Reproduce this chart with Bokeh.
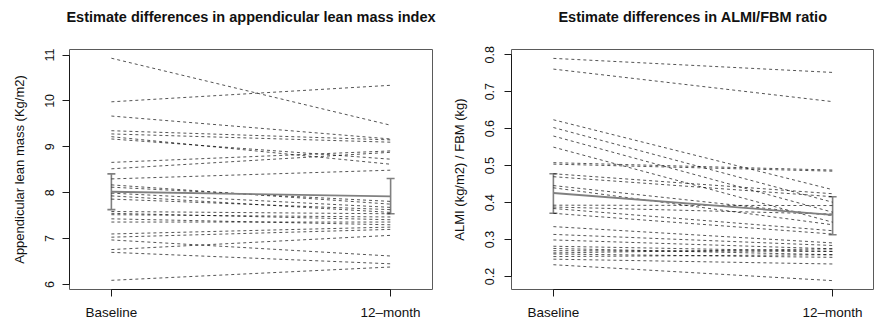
from bokeh.plotting import figure
from bokeh.layouts import row
from bokeh.models import Range1d, FixedTicker, Whisker, TeeHead, ColumnDataSource, LinearAxis
from bokeh.embed import file_html
from bokeh.resources import INLINE

time_pos = [1, 2]
time_labels = ["Baseline", "12–month"]

# Panel 1: appendicular lean mass index (Kg/m2)
almi_base = [10.93, 9.98, 9.67, 9.35, 9.28, 9.22, 9.17, 8.66, 8.52, 8.30, 8.17, 8.12, 7.99,
             7.93, 7.86, 7.59, 7.55, 7.52, 7.43, 7.36, 7.10, 7.03, 6.97, 6.76, 6.70, 6.09]
almi_12m = [9.47, 10.34, 9.17, 9.15, 9.10, 8.62, 8.73, 8.91, 8.88, 8.49, 7.75, 7.81, 7.68,
            7.57, 7.63, 7.54, 7.41, 7.47, 7.30, 7.36, 7.25, 7.20, 6.62, 7.07, 6.45, 6.38]
almi_mean = [8.02, 7.92]
almi_lower = [7.63, 7.54]
almi_upper = [8.41, 8.31]
almi_ticks = [6, 7, 8, 9, 10, 11]

# Panel 2: ALMI / FBM ratio
ratio_base = [0.790, 0.761, 0.624, 0.603, 0.580, 0.550, 0.508, 0.504, 0.478, 0.470, 0.446,
              0.440, 0.393, 0.388, 0.384, 0.371, 0.335, 0.314, 0.299, 0.282, 0.276, 0.270,
              0.264, 0.261, 0.254, 0.247, 0.232]
ratio_12m = [0.752, 0.673, 0.435, 0.401, 0.374, 0.347, 0.488, 0.485, 0.424, 0.416, 0.365,
             0.340, 0.392, 0.369, 0.324, 0.315, 0.291, 0.284, 0.275, 0.268, 0.259, 0.268,
             0.275, 0.252, 0.259, 0.234, 0.189]
ratio_mean = [0.426, 0.367]
ratio_lower = [0.371, 0.313]
ratio_upper = [0.478, 0.416]
ratio_ticks = [0.2, 0.3, 0.4, 0.5, 0.6, 0.7, 0.8]

FONT = "Liberation Sans"
AXIS_COL = "#1a1a1a"
BOX_COL = "#5a5a5a"
BAR_COL = "#808080"
HEIGHT = 322
TOP = 49
BOTTOM = 33


def make_panel(title, ylabel, base, m12, mean, lower, upper, ticks, yr, width,
               border_left, border_right, label_standoff):
    p = figure(width=width, height=HEIGHT, output_backend="svg", toolbar_location=None,
               title=None,
               x_range=Range1d(0.85, 2.15), y_range=Range1d(*yr),
               min_border_left=border_left, min_border_right=border_right,
               min_border_top=TOP, min_border_bottom=BOTTOM)
    p.background_fill_color = "white"
    p.border_fill_color = "white"
    p.outline_line_color = BOX_COL
    p.outline_line_width = 1
    p.xgrid.visible = False
    p.ygrid.visible = False

    # title drawn as the label of a bare axis above the frame
    tax = LinearAxis(ticker=FixedTicker(ticks=[]), axis_label=title)
    tax.axis_line_color = None
    tax.major_tick_line_color = None
    tax.minor_tick_line_color = None
    tax.major_tick_out = 0
    tax.major_tick_in = 0
    tax.minor_tick_out = 0
    tax.minor_tick_in = 0
    tax.major_label_text_font_size = "0px"
    tax.axis_label_text_font = FONT
    tax.axis_label_text_font_size = "14.5px"
    tax.axis_label_text_font_style = "bold"
    tax.axis_label_text_color = "#111111"
    tax.axis_label_standoff = 25
    p.add_layout(tax, "above")

    xs = [time_pos for _ in base]
    ys = [[b, m] for b, m in zip(base, m12)]
    p.multi_line(xs=xs, ys=ys, line_color="black", line_width=0.8, line_alpha=0.85,
                 line_dash="3 3")

    p.line(time_pos, mean, line_color=BAR_COL, line_width=1.8)
    src = ColumnDataSource(dict(x=time_pos, lower=lower, upper=upper))
    w = Whisker(base="x", lower="lower", upper="upper", source=src, dimension="height",
                line_color=BAR_COL, line_width=1.6,
                upper_head=TeeHead(size=8, line_color=BAR_COL, line_width=1.6),
                lower_head=TeeHead(size=8, line_color=BAR_COL, line_width=1.6))
    p.add_layout(w)

    for ax in (p.below[0], p.left[0]):
        ax.axis_line_color = AXIS_COL
        ax.axis_line_width = 1
        ax.major_tick_line_color = AXIS_COL
        ax.major_tick_out = 7
        ax.major_tick_in = 0
        ax.minor_tick_line_color = None
        ax.major_label_text_font = FONT
        ax.major_label_text_color = "#111111"

    xax = p.below[0]
    xax.ticker = FixedTicker(ticks=time_pos)
    xax.major_label_overrides = {t: l for t, l in zip(time_pos, time_labels)}
    xax.bounds = (time_pos[0], time_pos[-1])
    xax.major_label_text_font_size = "13.5px"
    xax.major_label_standoff = 8

    yax = p.left[0]
    yax.ticker = FixedTicker(ticks=ticks)
    yax.bounds = (ticks[0], ticks[-1])
    yax.major_label_orientation = "vertical"
    yax.major_label_text_font_size = "12.5px"
    yax.major_label_standoff = label_standoff
    yax.axis_label = ylabel
    yax.axis_label_text_font = FONT
    yax.axis_label_text_font_size = "13px"
    yax.axis_label_text_font_style = "normal"
    yax.axis_label_text_color = "#111111"
    yax.axis_label_standoff = 16
    return p


p1 = make_panel("Estimate differences in appendicular lean mass index",
                "Appendicular lean mass (Kg/m2)",
                almi_base, almi_12m, almi_mean, almi_lower, almi_upper,
                almi_ticks, (5.89, 11.12), 440, 69, 8, 8)
p2 = make_panel("Estimate differences in ALMI/FBM ratio",
                "ALMI (kg/m2) / FBM (kg)",
                ratio_base, ratio_12m, ratio_mean, ratio_lower, ratio_upper,
                ratio_ticks, (0.165, 0.814), 434, 71, 0, 10)

layout = row(p1, p2)
open("out.html", "w").write(file_html(layout, INLINE))
